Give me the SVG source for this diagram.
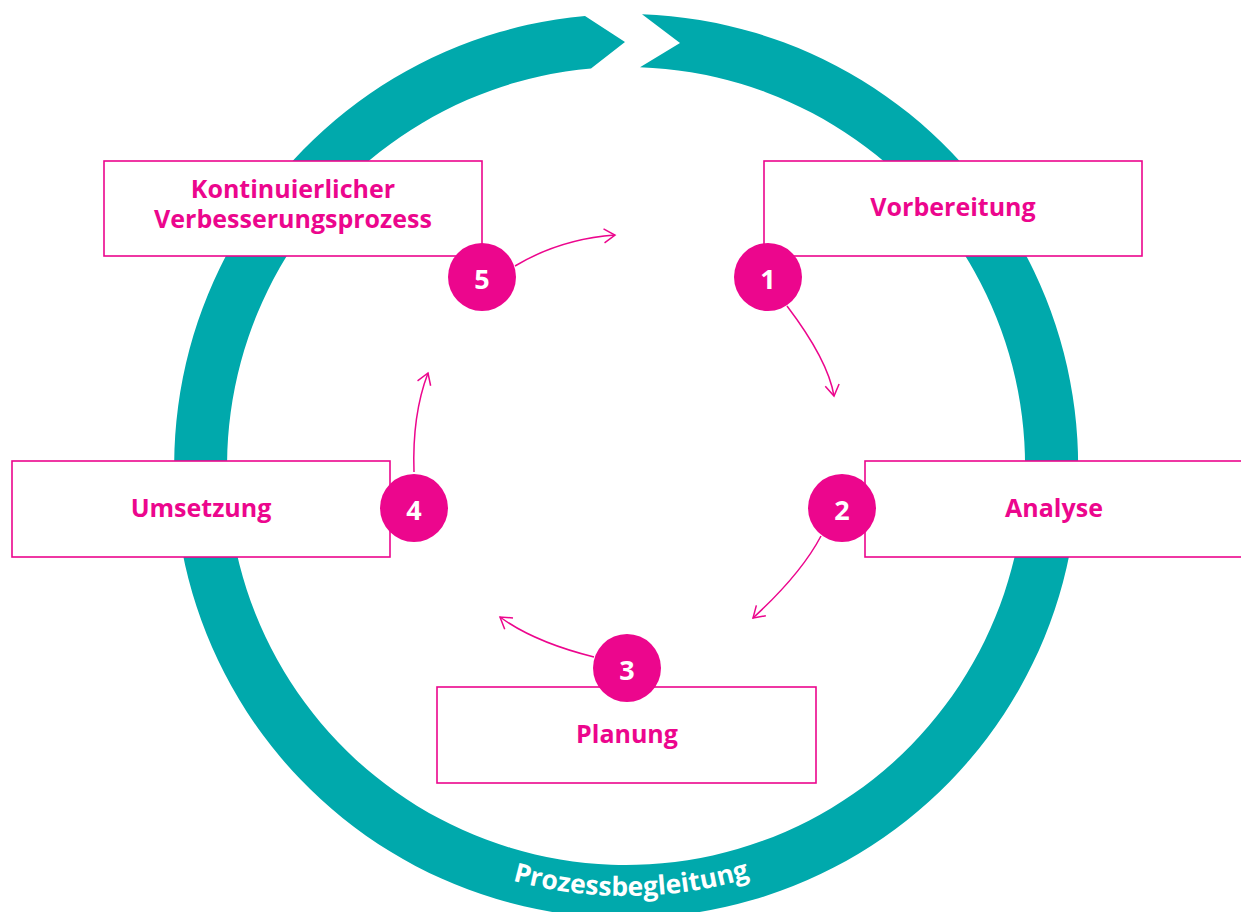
<svg xmlns="http://www.w3.org/2000/svg" width="1241" height="912" viewBox="0 0 1241 912">
<style>
.box{fill:#fff;stroke:#ec068d;stroke-width:1.6}
.lbl{font-family:"Open Sans","Noto Sans",sans-serif;font-weight:700;font-size:25px;fill:#ec068d;text-anchor:middle}
.num{fill:#ec068d}
.numt{font-family:"Open Sans","Noto Sans",sans-serif;font-weight:700;font-size:27px;fill:#fff;text-anchor:middle}
.con{fill:none;stroke:#ec068d;stroke-width:1.5}
.ring{fill:#00a9ac}
.ringt{font-family:"Open Sans","Noto Sans",sans-serif;font-weight:700;font-size:26.5px;fill:#fff}
</style>
<defs>
<marker id="ah" viewBox="-14 -9 16 18" markerWidth="16" markerHeight="18" refX="0" refY="0" orient="auto" markerUnits="userSpaceOnUse">
<path d="M-11,-7 L0,0 L-11,7" fill="none" stroke="#ec068d" stroke-width="1.5"/>
</marker>
<path id="tp" d="M196,466 A430,430 0 0 0 1056,466"/>
</defs>
<rect width="1241" height="912" fill="#fff"/>
<g id="ring">
<path class="ring" d="M642,14.3 A452,452 0 1 1 585,15.9 L625,42 L591,68.5 A399,399 0 1 0 640,67.2 L680,43 Z"/>
<text class="ringt"><textPath href="#tp" startOffset="50.4%" text-anchor="middle">Prozessbegleitung</textPath></text>
</g>
<g id="connectors">
<path class="con" d="M787,306 Q828,360 834,396" marker-end="url(#ah)"/>
<path class="con" d="M821,536 Q801,574 753,618" marker-end="url(#ah)"/>
<path class="con" d="M594,657 Q534,642 500,617" marker-end="url(#ah)"/>
<path class="con" d="M414,472 Q412,415 428,373" marker-end="url(#ah)"/>
<path class="con" d="M515,266 Q560,239 615,235" marker-end="url(#ah)"/>
</g>
<g id="node-kvp">
<rect class="box" x="104" y="161" width="378" height="95"/>
<text class="lbl" x="293" y="198">Kontinuierlicher</text>
<text class="lbl" x="293" y="228">Verbesserungsprozess</text>
</g>
<g id="node-vorbereitung">
<rect class="box" x="764" y="161" width="378" height="95"/>
<text class="lbl" x="953" y="216">Vorbereitung</text>
</g>
<g id="node-analyse">
<rect class="box" x="865" y="461" width="380" height="96"/>
<text class="lbl" x="1054" y="517">Analyse</text>
</g>
<g id="node-umsetzung">
<rect class="box" x="12" y="461" width="378" height="96"/>
<text class="lbl" x="201" y="517">Umsetzung</text>
</g>
<g id="node-planung">
<rect class="box" x="437" y="687" width="379" height="96"/>
<text class="lbl" x="627" y="743">Planung</text>
</g>
<g id="step-1"><circle class="num" cx="768" cy="277" r="34"/><text class="numt" x="768" y="289">1</text></g>
<g id="step-2"><circle class="num" cx="842" cy="508" r="34"/><text class="numt" x="842" y="520">2</text></g>
<g id="step-3"><circle class="num" cx="627" cy="668" r="34"/><text class="numt" x="627" y="680">3</text></g>
<g id="step-4"><circle class="num" cx="414" cy="508" r="34"/><text class="numt" x="414" y="520">4</text></g>
<g id="step-5"><circle class="num" cx="482" cy="277" r="34"/><text class="numt" x="482" y="289">5</text></g>
</svg>
